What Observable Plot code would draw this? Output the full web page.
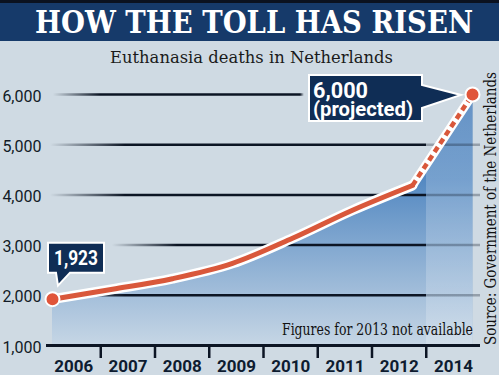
<!DOCTYPE html>
<html><head><meta charset="utf-8">
<script src="https://cdn.jsdelivr.net/npm/d3@7"></script>
<script src="https://cdn.jsdelivr.net/npm/@observablehq/plot@0.6"></script>
<style>
html,body{margin:0;padding:0;background:#cfdae3;}
#wrap{position:relative;width:499px;height:375px;overflow:hidden;background:#cfdae3;}
#wrap > svg{position:absolute;left:0;top:0;margin:0;overflow:visible;}
</style></head><body>
<div id="wrap">
<svg id="defs" width="0" height="0" style="position:absolute;width:0;height:0">
 <defs>
  <linearGradient id="areaGrad" gradientUnits="userSpaceOnUse" x1="0" y1="90" x2="0" y2="345">
   <stop offset="0" stop-color="#3d76b6"/><stop offset="0.35" stop-color="#5489c2"/><stop offset="1" stop-color="#c6d6e5"/>
  </linearGradient>
  <linearGradient id="bandGrad" gradientUnits="userSpaceOnUse" x1="0" y1="0" x2="499" y2="0">
   <stop offset="0.8537" stop-color="#ffffff" stop-opacity="0"/><stop offset="0.8537" stop-color="#ffffff" stop-opacity="0.2"/>
  </linearGradient>
  <linearGradient id="gridA" gradientUnits="userSpaceOnUse" x1="0" y1="0" x2="499" y2="0">
   <stop offset="0.1002" stop-color="#0c1524" stop-opacity="0"/><stop offset="0.2505" stop-color="#0c1524" stop-opacity="1"/>
   <stop offset="0.8537" stop-color="#0c1524" stop-opacity="1"/><stop offset="0.8537" stop-color="#0c1524" stop-opacity="0.3"/>
   <stop offset="0.962" stop-color="#0c1524" stop-opacity="0.3"/><stop offset="0.962" stop-color="#0c1524" stop-opacity="0"/>
  </linearGradient>
  <linearGradient id="grid3000" gradientUnits="userSpaceOnUse" x1="0" y1="0" x2="499" y2="0">
   <stop offset="0.2244" stop-color="#0c1524" stop-opacity="0"/><stop offset="0.3547" stop-color="#0c1524" stop-opacity="1"/>
   <stop offset="0.8537" stop-color="#0c1524" stop-opacity="1"/><stop offset="0.8537" stop-color="#0c1524" stop-opacity="0.3"/>
   <stop offset="0.962" stop-color="#0c1524" stop-opacity="0.3"/><stop offset="0.962" stop-color="#0c1524" stop-opacity="0"/>
  </linearGradient>
  <linearGradient id="grid6000" gradientUnits="userSpaceOnUse" x1="0" y1="0" x2="499" y2="0">
   <stop offset="0.1062" stop-color="#0c1524" stop-opacity="0"/><stop offset="0.2004" stop-color="#0c1524" stop-opacity="1"/>
   <stop offset="0.6012" stop-color="#0c1524" stop-opacity="1"/><stop offset="0.609" stop-color="#0c1524" stop-opacity="0"/>
  </linearGradient>
 </defs>
</svg>
</div>
<script>
// ---- data ----
const years = ["2006", "2007", "2008", "2009", "2010", "2011", "2012", "2014"];
const deaths = [1923, 2120, 2331, 2636, 3136, 3695, 4188, 6000];
const yTicks = [1000, 2000, 3000, 4000, 5000, 6000];
const callout2006 = "1,923";
const callout2014 = ["6,000", "(projected)"];
const titleText = "HOW THE TOLL HAS RISEN";
const subtitleText = "Euthanasia deaths in Netherlands";
const noteText = "Figures for 2013 not available";
const sourceText = "Source: Government of the Netherlands";

const data = years.map((year, i) => ({year, value: deaths[i]}));
const actual = data.slice(0, 7);
const projectedSeg = data.slice(6);

const RED = "#d9583b";
const NAVY = "#0f2d55";
const W = 499, H = 375;
const common = {width: W, height: H, marginTop: 94, marginBottom: 30, marginLeft: 46, marginRight: 19,
  style: {background: "transparent", overflow: "visible"},
  y: {domain: [1000, 6000], axis: null}};
const pointX = {type: "point", domain: years, range: [51, 473], padding: 0, axis: null};
const wrap = document.getElementById("wrap");

// ---- layer A: area + gridlines ----
const layerA = Plot.plot({...common, x: pointX, marks: [
  Plot.areaY(actual, {x: "year", y1: 1000, y2: "value", fill: "url(#areaGrad)", curve: "monotone-x"}),
  Plot.areaY(projectedSeg, {x: "year", y1: 1000, y2: "value", fill: "url(#areaGrad)", stroke: "url(#areaGrad)", strokeWidth: 1}),
  Plot.areaY(actual, {x: "year", y1: 1000, y2: "value", fill: "url(#bandGrad)", curve: "monotone-x"}),
  Plot.areaY(projectedSeg, {x: "year", y1: 1000, y2: "value", fill: "url(#bandGrad)"}),
  Plot.ruleY([2000, 4000, 5000], {stroke: "url(#gridA)", strokeWidth: 2.5}),
  Plot.ruleY([3000], {stroke: "url(#grid3000)", strokeWidth: 2.5}),
  Plot.ruleY([6000], {stroke: "url(#grid6000)", strokeWidth: 2.5})
]});
wrap.appendChild(layerA);

// ---- layer B: axes on band layout ----
const layerB = Plot.plot({...common, x: {domain: [0, years.length], axis: null}, marks: [
  Plot.ruleY([1000], {stroke: "#0c1524", strokeWidth: 3}),
  Plot.axisX(d3.range(1, years.length), {tickSize: 13, strokeWidth: 2.5, stroke: "#0c1524", tickFormat: () => "", label: null}),
  Plot.axisX(years.map((_, i) => i + 0.5), {tickSize: 0, tickPadding: 14, label: null,
    tickFormat: v => years[Math.floor(v)], fontSize: 17, fontWeight: "bold", fontFamily: "Roboto", fill: "#0e1c30"}),
  Plot.axisY(yTicks, {tickSize: 0, tickPadding: 5, label: null, tickFormat: d3.format(","),
    fontSize: 16, fontFamily: "Roboto", fill: "#121a26", dy: 2})
]});
wrap.appendChild(layerB);

// ---- layer C: line, dots, callouts ----
function callout1923(index, scales) {
  const px = scales.x(years[0]), py = scales.y(deaths[0]);
  const g = d3.create("svg:g");
  const L = px - 4, R = px + 52, T = py - 56, B = py - 26;
  g.append("path").attr("d", `M${L},${T}H${R}V${B}H${px + 18}L${px + 6},${py - 13}L${px + 4},${B}H${L}Z`)
    .attr("fill", NAVY).attr("stroke", "white").attr("stroke-width", 2).attr("stroke-linejoin", "miter");
  g.append("text").attr("x", px + 24).attr("y", py - 34).attr("text-anchor", "middle")
    .attr("fill", "white").attr("font-family", "Roboto").attr("font-weight", "bold").attr("font-size", 21)
    .attr("textLength", 44).attr("lengthAdjust", "spacingAndGlyphs").text(callout2006);
  return g.node();
}
function callout6000(index, scales) {
  const px = scales.x(years[years.length - 1]), py = scales.y(deaths[deaths.length - 1]);
  const g = d3.create("svg:g");
  const L = px - 163, R = px - 50, T = py - 19, B = py + 27;
  g.append("path").attr("d", `M${L},${T}H${R}V${py - 9}L${px - 11},${py + 1}L${R},${py + 14}V${B}H${L}Z`)
    .attr("fill", NAVY).attr("stroke", "white").attr("stroke-width", 2).attr("stroke-linejoin", "miter");
  g.append("text").attr("x", L + 4).attr("y", py + 4).attr("text-anchor", "start")
    .attr("fill", "white").attr("font-family", "Roboto").attr("font-weight", "bold").attr("font-size", 22)
    .attr("textLength", 55).attr("lengthAdjust", "spacingAndGlyphs").text(callout2014[0]);
  g.append("text").attr("x", L + 4).attr("y", py + 22).attr("text-anchor", "start")
    .attr("fill", "white").attr("font-family", "Roboto").attr("font-weight", "bold").attr("font-size", 20)
    .attr("textLength", 100).attr("lengthAdjust", "spacingAndGlyphs").text(callout2014[1]);
  return g.node();
}
const layerC = Plot.plot({...common, x: pointX, marks: [
  Plot.line(actual, {x: "year", y: "value", stroke: "white", strokeWidth: 10, curve: "monotone-x"}),
  Plot.line(projectedSeg, {x: "year", y: "value", stroke: "white", strokeWidth: 9}),
  Plot.line(actual, {x: "year", y: "value", stroke: RED, strokeWidth: 5, curve: "monotone-x"}),
  Plot.line(projectedSeg, {x: "year", y: "value", stroke: RED, strokeWidth: 4.5, strokeDasharray: "6,4", strokeLinecap: "butt"}),
  Plot.dot([data[0], data[data.length - 1]], {x: "year", y: "value", r: 7, fill: "#e0553a", stroke: "white", strokeWidth: 2}),
  callout1923,
  callout6000
]});
wrap.appendChild(layerC);

// ---- static texts ----
const txt = d3.select(wrap).append("svg").attr("width", W).attr("height", H).style("pointer-events", "none");
txt.append("rect").attr("x", 0).attr("y", 0).attr("width", W).attr("height", 41).attr("fill", "#163a6a");
txt.append("rect").attr("x", 0).attr("y", 0).attr("width", W).attr("height", 3).attr("fill", "#0b1220");
txt.append("text").attr("x", 35).attr("y", 33).attr("fill", "white").attr("font-family", "DejaVu Serif")
  .attr("font-weight", "bold").attr("font-size", 31).attr("textLength", 438).attr("lengthAdjust", "spacingAndGlyphs").text(titleText);
txt.append("text").attr("x", 110).attr("y", 63).attr("fill", "#1a1a1a").attr("font-family", "DejaVu Serif")
  .attr("font-size", 16.5).attr("textLength", 283).attr("lengthAdjust", "spacingAndGlyphs").text(subtitleText);
txt.append("text").attr("x", 282).attr("y", 335).attr("fill", "#111").attr("font-family", "DejaVu Serif")
  .attr("font-size", 17).attr("textLength", 191).attr("lengthAdjust", "spacingAndGlyphs").text(noteText);
txt.append("text").attr("transform", "translate(496,345) rotate(-90)").attr("fill", "#111").attr("font-family", "DejaVu Serif")
  .attr("font-size", 17).attr("textLength", 273).attr("lengthAdjust", "spacingAndGlyphs").text(sourceText);
</script>
</body></html>
